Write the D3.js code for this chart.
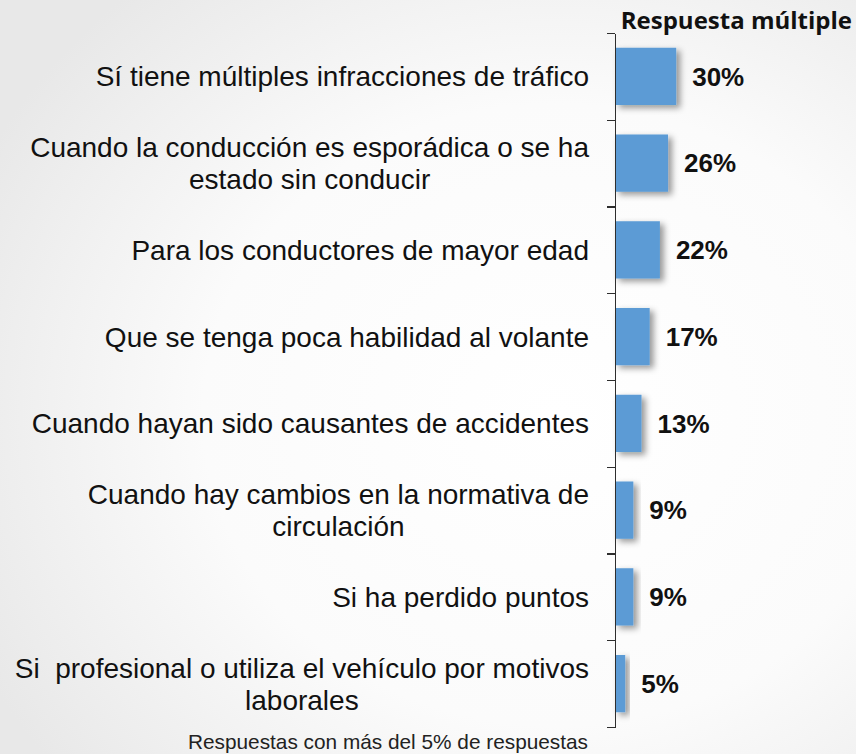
<!DOCTYPE html>
<html>
<head>
<meta charset="utf-8">
<script src="https://cdn.jsdelivr.net/npm/d3@7/dist/d3.min.js"></script>
<style>
	html, body { margin: 0; padding: 0; background: #ffffff; }
	svg { display: block; }
</style>
</head>
<body>
<div id="chart"></div>
<script>

	//----------------------------
	// Data
	//----------------------------

	var categories = [
		"Sí tiene múltiples infracciones de tráfico",
		"Cuando la conducción es esporádica o se ha\nestado sin conducir",
		"Para los conductores de mayor edad",
		"Que se tenga poca habilidad al volante",
		"Cuando hayan sido causantes de accidentes",
		"Cuando hay cambios en la normativa de\ncirculación",
		"Si ha perdido puntos",
		"Si  profesional o utiliza el vehículo por motivos\nlaborales"
	];
	var values = [30, 26, 22, 17, 13, 9, 9, 5];
	var valueLabels = ["30%", "26%", "22%", "17%", "13%", "9%", "9%", "5%"];
	var title = "Respuesta múltiple";
	var footnote = "Respuestas con más del 5% de respuestas";

	//----------------------------
	// Layout
	//----------------------------

	var totwidth = 856,
		totheight = 754,
		axisX = 615,
		axisTop = 33,
		axisBottom = 727,
		labelRight = 589,
		barColor = "#5b9bd5",
		textColor = "#111111";

	var svg = d3.select("#chart").append("svg")
		.attr("width", totwidth)
		.attr("height", totheight);

	// Background gradient and bar shadow

	var defs = svg.append("defs");

	var grad = defs.append("radialGradient")
		.attr("id", "bg")
		.attr("cx", "65%").attr("cy", "55%").attr("r", "75%");
	grad.append("stop").attr("offset", "0%").attr("stop-color", "#ffffff");
	grad.append("stop").attr("offset", "55%").attr("stop-color", "#fbfbfb");
	grad.append("stop").attr("offset", "100%").attr("stop-color", "#e8e8e8");

	var shadow = defs.append("filter")
		.attr("id", "shadow")
		.attr("x", "-20%").attr("y", "-20%")
		.attr("width", "160%").attr("height", "150%");
	shadow.append("feDropShadow")
		.attr("dx", 4).attr("dy", 3)
		.attr("stdDeviation", 3)
		.attr("flood-color", "#000000")
		.attr("flood-opacity", 0.4);

	svg.append("rect")
		.attr("width", totwidth)
		.attr("height", totheight)
		.attr("fill", "url(#bg)");

	// Scales

	var y = d3.scaleBand()
		.domain(d3.range(categories.length))
		.range([axisTop, axisBottom])
		.paddingInner(0.34)
		.paddingOuter(0.17);

	var x = d3.scaleLinear()
		.domain([0, 100])
		.range([axisX, axisX + 204]);

	// Bars

	svg.append("g")
		.attr("class", "bars")
		.selectAll("rect")
		.data(values)
		.enter().append("rect")
			.attr("x", x(0))
			.attr("y", function(d, i) { return y(i); })
			.attr("width", function(d) { return x(d) - x(0); })
			.attr("height", y.bandwidth())
			.attr("fill", barColor)
			.attr("filter", "url(#shadow)");

	// Axis: vertical line with ticks at band boundaries

	var bounds = d3.range(categories.length + 1).map(function(i) {
		return axisTop + i * y.step();
	});
	var yEdge = d3.scaleLinear().domain([axisTop, axisBottom]).range([axisTop, axisBottom]);
	var yAxis = d3.axisLeft(yEdge)
		.tickValues(bounds)
		.tickSize(8)
		.tickSizeOuter(0)
		.tickFormat("");

	var ax = svg.append("g")
		.attr("class", "y-axis")
		.attr("transform", "translate(" + axisX + ",0)")
		.call(yAxis);
	ax.selectAll("path, line")
		.attr("stroke", "#2e2e2e")
		.attr("stroke-width", 1.3)
		.attr("shape-rendering", "crispEdges");

	// Value labels

	svg.append("g")
		.attr("class", "values")
		.selectAll("text")
		.data(values)
		.enter().append("text")
			.attr("x", function(d) { return x(d) + 16; })
			.attr("y", function(d, i) { return y(i) + y.bandwidth() / 2; })
			.attr("dy", "0.36em")
			.attr("font-family", "'Liberation Sans', Arial, sans-serif")
			.attr("font-weight", "bold")
			.attr("font-size", 26)
			.attr("fill", textColor)
			.text(function(d, i) { return valueLabels[i]; });

	// Category labels: block right aligned, lines centred within block

	var lineH = 32;
	var labels = svg.append("g")
		.attr("class", "labels")
		.selectAll("text")
		.data(categories)
		.enter().append("text")
			.attr("font-family", "'Liberation Sans', Arial, sans-serif")
			.attr("font-size", 28)
			.attr("fill", textColor)
			.style("white-space", "pre")
			.attr("text-anchor", "middle");

	labels.each(function(d, i) {
		var t = d3.select(this);
		var lines = d.split("\n");
		var cy = y(i) + y.bandwidth() / 2;
		var spans = lines.map(function(s, j) {
			return t.append("tspan")
				.attr("y", cy + (j - (lines.length - 1) / 2) * lineH)
				.attr("dy", "0.36em")
				.text(s);
		});
		var maxW = d3.max(spans, function(s) { return s.node().getComputedTextLength(); });
		spans.forEach(function(s) { s.attr("x", labelRight - maxW / 2); });
	});

	// Title and footnote

	svg.append("text")
		.attr("x", 852)
		.attr("y", 29)
		.attr("text-anchor", "end")
		.attr("font-family", "'Open Sans', Lato, sans-serif")
		.attr("font-weight", "bold")
		.attr("font-size", 24)
		.attr("fill", textColor)
		.text(title);

	svg.append("text")
		.attr("x", 588)
		.attr("y", 749)
		.attr("text-anchor", "end")
		.attr("font-family", "'Liberation Sans', Arial, sans-serif")
		.attr("font-size", 20.8)
		.attr("fill", "#222222")
		.text(footnote);

</script>
</body>
</html>
